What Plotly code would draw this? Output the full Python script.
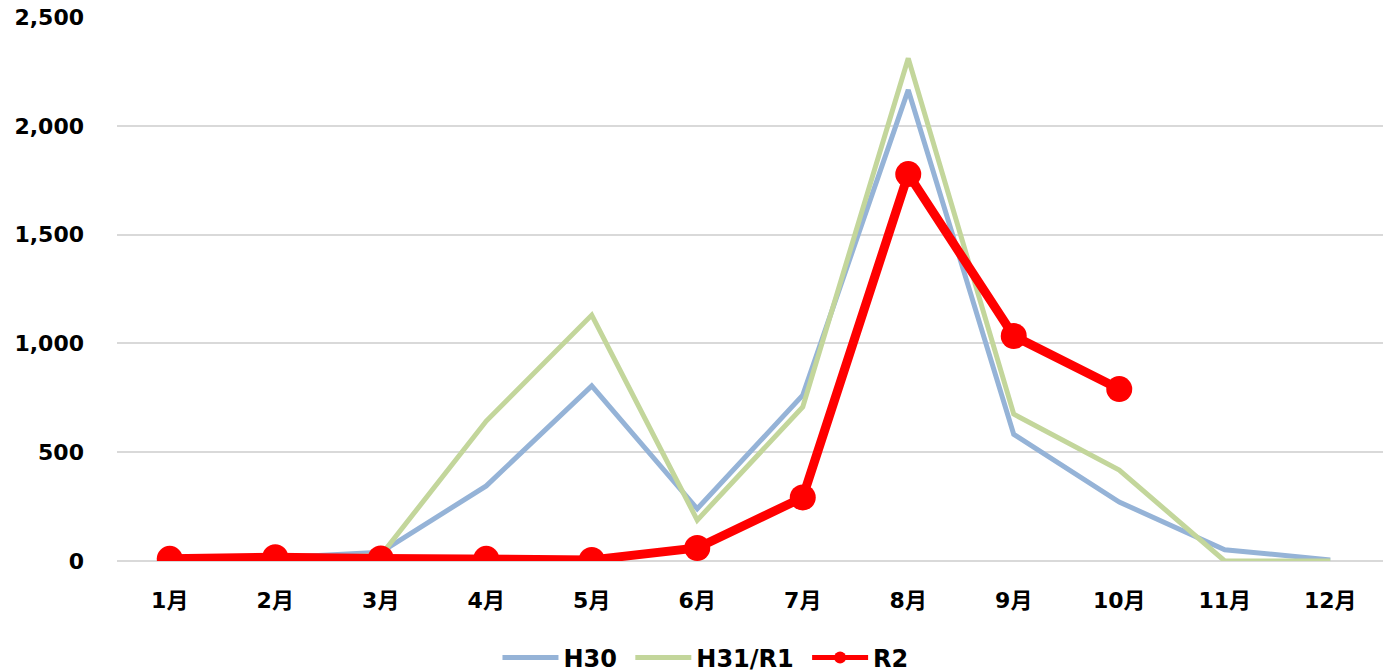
import plotly.graph_objects as go

months = ["1月", "2月", "3月", "4月", "5月", "6月", "7月", "8月", "9月", "10月", "11月", "12月"]
h30 = [5, 15, 40, 345, 805, 240, 762, 2165, 582, 271, 52, 5]
h31_r1 = [3, 8, 25, 643, 1130, 188, 708, 2310, 675, 418, 0, 0]
r2 = [10, 17, 12, 10, 5, 60, 292, 1778, 1034, 790]
r2_months = months[:len(r2)]
series_names = ["H30", "H31/R1", "R2"]

FONT = "DejaVu Sans, Noto Sans CJK JP, sans-serif"
PAD = "\u00a0"

fig = go.Figure()
fig.add_trace(go.Scatter(x=months, y=h30, name=series_names[0] + PAD, mode="lines",
                         line=dict(color="#95B3D7", width=5)))
fig.add_trace(go.Scatter(x=months, y=h31_r1, name=series_names[1] + PAD, mode="lines",
                         line=dict(color="#C3D69B", width=5)))
fig.add_trace(go.Scatter(x=r2_months, y=r2, name=series_names[2], mode="lines+markers",
                         line=dict(color="#FF0000", width=9),
                         marker=dict(color="#FF0000", size=26)))

fig.update_layout(
    width=1386, height=672, autosize=False,
    margin=dict(l=117, r=3, t=17, b=111),
    paper_bgcolor="white", plot_bgcolor="white",
    font=dict(family=FONT, size=22, color="black"),
    showlegend=True,
    legend=dict(orientation="h", xref="container", yref="container",
                x=0.509, xanchor="center", y=0.021, yanchor="middle",
                font=dict(family=FONT, size=24, color="black", weight="bold"),
                itemwidth=56, itemsizing="constant"),
    xaxis=dict(type="category", categoryorder="array", categoryarray=months,
               range=[-0.5, 11.5], showgrid=False, showline=False, zeroline=False,
               ticks="", ticklabelstandoff=24, automargin=False,
               tickfont=dict(family=FONT, size=22, color="black", weight="bold")),
    yaxis=dict(range=[0, 2500], dtick=500, tickformat=",d", showgrid=True,
               gridcolor="#D9D9D9", gridwidth=1.5, zeroline=True,
               zerolinecolor="#D9D9D9", zerolinewidth=1.5, showline=False,
               ticks="", ticklabelstandoff=32, automargin=False,
               tickfont=dict(family=FONT, size=22, color="black", weight="bold")),
)

fig.write_html("out.html", config={"displayModeBar": False},
               post_script="document.body.style.margin='0';document.body.style.overflow='hidden';")
